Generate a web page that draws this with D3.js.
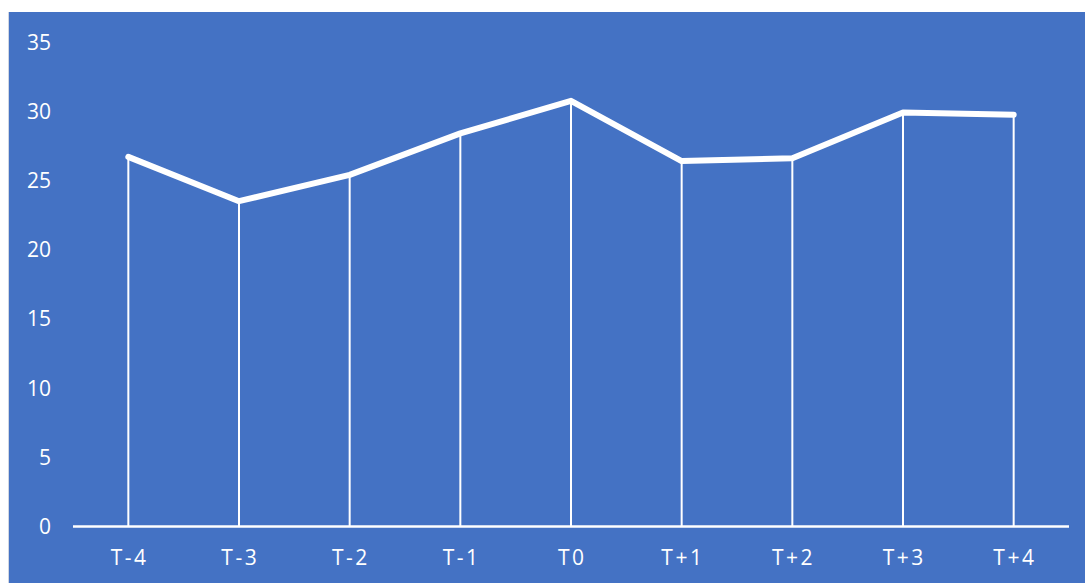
<!DOCTYPE html>
<html>
<head>
<meta charset="utf-8">
<script src="https://cdn.jsdelivr.net/npm/d3@7"></script>
<style>
  html, body { margin: 0; padding: 0; background: #ffffff; }
  svg { display: block; }
  text { font-family: "Open Sans", "Noto Sans", sans-serif; fill: #ffffff; }
</style>
</head>
<body>
<svg id="chart" width="1085" height="583"></svg>
<script>
// Series: one value per period around T0
const categories = ["T-4", "T-3", "T-2", "T-1", "T0", "T+1", "T+2", "T+3", "T+4"];
const values = [26.7, 23.5, 25.4, 28.4, 30.75, 26.4, 26.6, 29.9, 29.75];
const yTicks = [0, 5, 10, 15, 20, 25, 30, 35];

const svg = d3.select("#chart");
const W = 1085, H = 583;

// panel background
svg.append("rect")
  .attr("x", 8).attr("y", 12)
  .attr("width", W - 8).attr("height", H - 12)
  .attr("fill", "#4472C4");
svg.append("line")
  .attr("x1", 8.5).attr("x2", 8.5).attr("y1", 12).attr("y2", H)
  .attr("stroke", "#d0d6e2").attr("stroke-width", 1);

const plot = { left: 73, right: 1069, top: 42, bottom: 526.5 };

const x = d3.scaleBand()
  .domain(categories)
  .range([plot.left, plot.right])
  .padding(0);

const y = d3.scaleLinear()
  .domain([0, 35])
  .range([plot.bottom, plot.top]);

const cx = d => x(d) + x.bandwidth() / 2;

// y tick labels (no axis line)
svg.append("g")
  .selectAll("text")
  .data(yTicks)
  .join("text")
  .attr("x", 51)
  .attr("y", d => y(d))
  .attr("dy", "0.36em")
  .attr("text-anchor", "end")
  .attr("font-size", 21)
  .text(d => d);

// drop lines from each point down to the axis
svg.append("g")
  .selectAll("line")
  .data(categories)
  .join("line")
  .attr("x1", d => cx(d)).attr("x2", d => cx(d))
  .attr("y1", (d, i) => y(values[i]))
  .attr("y2", plot.bottom)
  .attr("stroke", "#ffffff")
  .attr("stroke-width", 2);

// category axis line
svg.append("line")
  .attr("x1", plot.left).attr("x2", plot.right)
  .attr("y1", plot.bottom).attr("y2", plot.bottom)
  .attr("stroke", "#ffffff")
  .attr("stroke-width", 2.5);

// category labels
const spacing = 2.5;
svg.append("g")
  .selectAll("text")
  .data(categories)
  .join("text")
  .attr("x", d => cx(d) + spacing / 2)
  .attr("y", 557)
  .attr("dy", "0.36em")
  .attr("text-anchor", "middle")
  .attr("font-size", 21)
  .attr("letter-spacing", spacing)
  .text(d => d);

// main series line
const line = d3.line()
  .x((d, i) => cx(categories[i]))
  .y(d => y(d));

svg.append("path")
  .datum(values)
  .attr("d", line)
  .attr("fill", "none")
  .attr("stroke", "#ffffff")
  .attr("stroke-width", 6)
  .attr("stroke-linecap", "round")
  .attr("stroke-linejoin", "round");
</script>
</body>
</html>
